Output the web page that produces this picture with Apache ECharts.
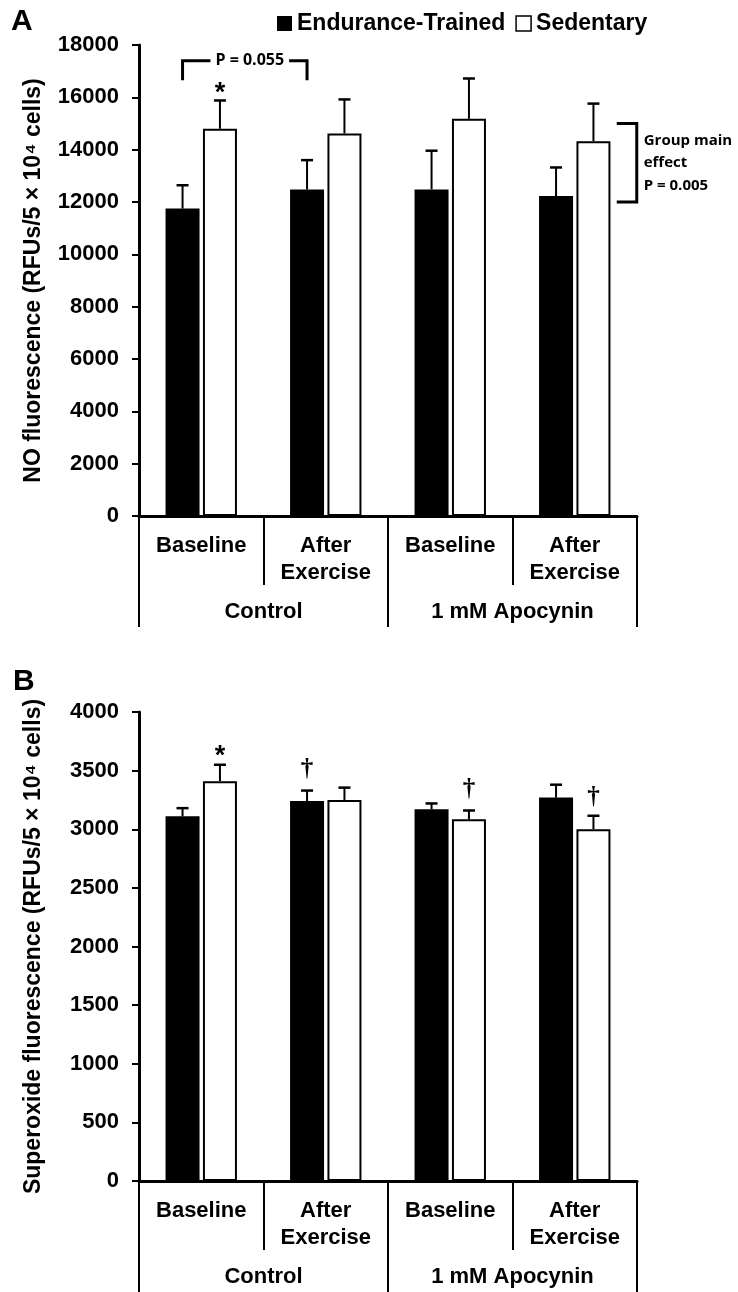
<!DOCTYPE html>
<html><head><meta charset="utf-8">
<script src="https://cdn.jsdelivr.net/npm/echarts@6/dist/echarts.min.js"></script>
<style>html,body{margin:0;padding:0;background:#fff}#c{width:738px;height:1292px}</style>
</head><body><div id="c"></div>
<script>
// ---------- data ----------
const subCategories = ['Baseline', 'After\nExercise', 'Baseline', 'After\nExercise'];
const groupCategories = ['Control', '1 mM Apocynin'];
const seriesNames = ['Endurance-Trained', 'Sedentary'];

const noAxis = {min: 0, max: 18000, interval: 2000};
const noTrained = [11750, 12480, 12480, 12230];
const noTrainedErr = [890, 1120, 1480, 1090];
const noSedentary = [14800, 14620, 15180, 14320];
const noSedentaryErr = [1080, 1300, 1540, 1440];

const soAxis = {min: 0, max: 4000, interval: 500};
const soTrained = [3110, 3240, 3170, 3270];
const soTrainedErr = [70, 90, 50, 110];
const soSedentary = [3410, 3250, 3085, 3000];
const soSedentaryErr = [140, 105, 75, 115];

// significance marks: category, series side (-1 trained, 1 sedentary), y value, symbol
const noMarks = [{cat: 0, side: 1, value: 16300, text: '*'}];
const soMarks = [
  {cat: 0, side: 1, value: 3650, text: '*'},
  {cat: 1, side: -1, value: 3505, text: '†'},
  {cat: 2, side: 1, value: 3335, text: '†'},
  {cat: 3, side: 1, value: 3267, text: '†'}
];
const noPairBracket = {fromCat: 0, toCat: 1, top: 17400, bottom: 16650, text: 'P = 0.055'};
const noGroupBracket = {cat: 3, top: 15000, bottom: 12000, text: 'Group main\neffect\nP = 0.005'};

// ---------- styles ----------
const FONT = '"Liberation Sans", Arial, Helvetica, sans-serif';
const NOTE_FONT = '"Open Sans", "Liberation Sans", sans-serif';
const BAR_W = 34;
const OFF = (BAR_W + BAR_W * 0.1) / 2;
const lbl = {fontFamily: FONT, fontWeight: 'bold', color: '#000'};

function errorSeries(means, errs, side, idx) {
  return {
    type: 'custom', xAxisIndex: idx * 2, yAxisIndex: idx, z: 5, silent: true,
    data: means.map((m, i) => [i, m, m + errs[i]]),
    encode: {x: 0, y: [1, 2]},
    renderItem(params, api) {
      const c = api.value(0);
      const p0 = api.coord([c, api.value(1)]);
      const p1 = api.coord([c, api.value(2)]);
      const x = p0[0] + side * OFF;
      return {type: 'group', children: [
        {type: 'line', shape: {x1: x, y1: p0[1], x2: x, y2: p1[1]}, style: {stroke: '#000', lineWidth: 2}},
        {type: 'line', shape: {x1: x - 6, y1: p1[1], x2: x + 6, y2: p1[1]}, style: {stroke: '#000', lineWidth: 2.5}}
      ]};
    }
  };
}

function markSeries(marks, idx) {
  return {
    type: 'custom', xAxisIndex: idx * 2, yAxisIndex: idx, z: 6, silent: true,
    data: marks.map(m => [m.cat, m.value]),
    renderItem(params, api) {
      const m = marks[params.dataIndex];
      const p = api.coord([api.value(0), api.value(1)]);
      const dag = m.text === '†';
      return {type: 'text', style: {
        x: p[0] + m.side * OFF, y: dag ? p[1] : p[1] + 4, text: m.text, align: 'center', verticalAlign: 'middle',
        fontSize: dag ? 25 : 27, fontWeight: 'bold',
        fontFamily: dag ? '"Liberation Serif", serif' : FONT, fill: '#000'
      }};
    }
  };
}

function pairBracketSeries(b, idx) {
  return {
    type: 'custom', xAxisIndex: idx * 2, yAxisIndex: idx, z: 6, silent: true,
    data: [[b.fromCat, b.top, b.toCat, b.bottom]],
    renderItem(params, api) {
      const a = api.coord([api.value(0), api.value(1)]);
      const d = api.coord([api.value(2), api.value(3)]);
      const x0 = a[0] - OFF, x1 = d[0] - OFF, yT = a[1], yB = d[1];
      return {type: 'group', children: [
        {type: 'polyline', shape: {points: [[x0, yB], [x0, yT], [x1, yT], [x1, yB]]}, style: {stroke: '#000', lineWidth: 3, fill: null}},
        {type: 'text', z2: 10, style: {x: (x0 + x1) / 2 + 5, y: yT, text: b.text, align: 'center', verticalAlign: 'middle',
          fontSize: 16, fontWeight: 'bold', fontFamily: NOTE_FONT, fill: '#000', backgroundColor: '#fff', padding: [2, 5]}}
      ]};
    }
  };
}

function groupBracketSeries(b, idx) {
  return {
    type: 'custom', xAxisIndex: idx * 2, yAxisIndex: idx, z: 6, silent: true,
    data: [[b.cat, b.top, b.bottom]],
    renderItem(params, api) {
      const a = api.coord([api.value(0), api.value(1)]);
      const d = api.coord([api.value(0), api.value(2)]);
      const xa = a[0] + 42, xb = a[0] + 62;
      return {type: 'group', children: [
        {type: 'polyline', shape: {points: [[xa, a[1]], [xb, a[1]], [xb, d[1]], [xa, d[1]]]}, style: {stroke: '#000', lineWidth: 3, fill: null}},
        {type: 'text', style: {x: xb + 7, y: (a[1] + d[1]) / 2, text: b.text, align: 'left', verticalAlign: 'middle',
          fontSize: 15, lineHeight: 22.5, fontWeight: 'bold', fontFamily: NOTE_FONT, fill: '#000'}}
      ]};
    }
  };
}

function xAxes(gi) {
  return [
    {gridIndex: gi, type: 'category', data: subCategories,
      axisLine: {lineStyle: {color: '#000', width: 3}},
      axisTick: {show: true, length: 69, lineStyle: {color: '#000', width: 2}},
      axisLabel: Object.assign({fontSize: 22, lineHeight: 27, margin: 16, interval: 0, verticalAlign: 'top'}, lbl)},
    {gridIndex: gi, type: 'category', data: groupCategories, position: 'bottom',
      axisLine: {show: false},
      axisTick: {show: true, length: 111, lineStyle: {color: '#000', width: 2}},
      axisLabel: Object.assign({fontSize: 22, margin: 85, interval: 0, verticalAlign: 'top'}, lbl)}
  ];
}

function yAxis(gi, ax, name) {
  return {gridIndex: gi, type: 'value', min: ax.min, max: ax.max, interval: ax.interval,
    splitLine: {show: false},
    axisLine: {show: true, lineStyle: {color: '#000', width: 3}},
    axisTick: {show: true, length: 7, lineStyle: {color: '#000', width: 2}},
    axisLabel: Object.assign({fontSize: 22, margin: 20, formatter: v => String(v)}, lbl),
    name: name, nameLocation: 'middle', nameGap: 94, nameRotate: 90, nameMoveOverlap: false,
    nameTextStyle: Object.assign({fontSize: 23}, lbl)};
}

function bars(tr, sed, idx) {
  return [
    {type: 'bar', name: seriesNames[0], xAxisIndex: idx * 2, yAxisIndex: idx, data: tr, barWidth: BAR_W, barGap: '10%',
      itemStyle: {color: '#000'}, silent: true},
    {type: 'bar', name: seriesNames[1], xAxisIndex: idx * 2, yAxisIndex: idx, data: sed, barWidth: BAR_W, barGap: '10%',
      itemStyle: {color: '#fff', borderColor: '#000', borderWidth: 2}, silent: true}
  ];
}

const chart = echarts.init(document.getElementById('c'), null, {renderer: 'canvas'});
chart.setOption({
  animation: false,
  backgroundColor: '#fff',
  legend: {left: 272, top: 7, itemWidth: 15, itemHeight: 15, itemGap: 10, selectedMode: false,
    textStyle: {fontSize: 23, fontWeight: 'bold', fontFamily: FONT, color: '#000'},
    data: [
      {name: seriesNames[0], icon: 'rect', itemStyle: {color: '#000', borderWidth: 0}},
      {name: seriesNames[1], icon: 'rect', itemStyle: {color: '#fff', borderColor: '#000', borderWidth: 1.5}}
    ]},
  graphic: [
    {type: 'text', left: 11, top: 7, style: {text: 'A', fontSize: 30, fontWeight: 'bold', fontFamily: FONT, fill: '#000'}},
    {type: 'text', left: 13, top: 667, style: {text: 'B', fontSize: 30, fontWeight: 'bold', fontFamily: FONT, fill: '#000'}}
  ],
  grid: [
    {left: 139, width: 498, top: 45, height: 471, outerBoundsMode: 'none', containLabel: false},
    {left: 139, width: 498, top: 712, height: 469, outerBoundsMode: 'none', containLabel: false}
  ],
  xAxis: xAxes(0).concat(xAxes(1)),
  yAxis: [
    yAxis(0, noAxis, 'NO fluorescence (RFUs/5 × 10⁴ cells)'),
    yAxis(1, soAxis, 'Superoxide fluorescence (RFUs/5 × 10⁴ cells)')
  ],
  series: [].concat(
    bars(noTrained, noSedentary, 0),
    bars(soTrained, soSedentary, 1),
    [errorSeries(noTrained, noTrainedErr, -1, 0), errorSeries(noSedentary, noSedentaryErr, 1, 0),
     errorSeries(soTrained, soTrainedErr, -1, 1), errorSeries(soSedentary, soSedentaryErr, 1, 1),
     markSeries(noMarks, 0), markSeries(soMarks, 1),
     pairBracketSeries(noPairBracket, 0), groupBracketSeries(noGroupBracket, 0)]
  )
});
</script>
</body></html>
